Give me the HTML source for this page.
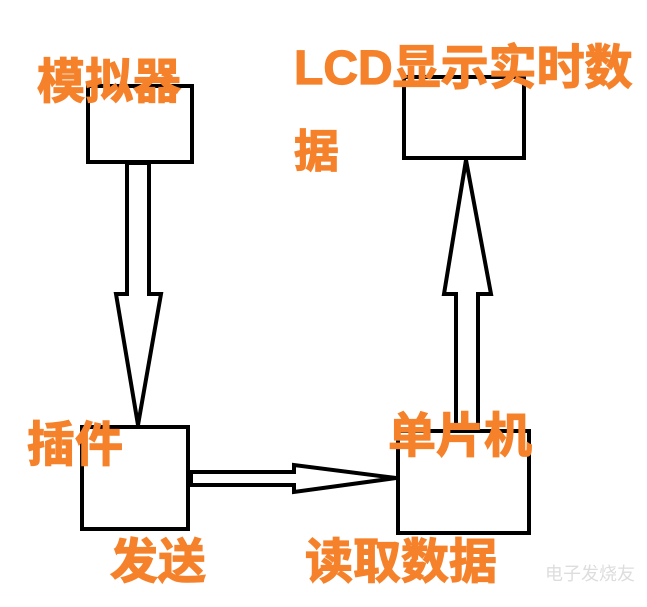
<!DOCTYPE html>
<html><head><meta charset="utf-8"><style>
html,body{margin:0;padding:0;background:#fff;width:647px;height:607px;overflow:hidden}
text{font-family:"Liberation Sans","Noto Sans CJK SC",sans-serif;font-weight:bold;fill:#f5822a;stroke:#f5822a;stroke-width:1.2}
</style></head><body>
<svg width="647" height="607" viewBox="0 0 647 607" xmlns="http://www.w3.org/2000/svg">
<g fill="none" stroke="#000" stroke-width="4" stroke-linejoin="miter">
<rect x="88" y="86" width="104" height="76"/>
<rect x="404" y="77" width="120" height="81"/>
<rect x="82" y="427" width="106" height="102"/>
<rect x="398" y="431" width="131" height="102"/>
<polygon points="127,163 149,163 149,294 161,294 138,425 116,294 127,294"/>
<polygon points="456,430 478,430 478,294 491,294 466,160 444,294 456,294"/>
<polygon points="191,472 294,472 294,465 396,478 294,492 294,485 191,485"/>
</g>
<text x="37" y="98" font-size="48">模拟器</text>
<text x="294" y="84" font-size="48">LCD显示实时数</text>
<text x="294" y="167" font-size="45">据</text>
<text x="27" y="461" font-size="48">插件</text>
<text x="388" y="452" font-size="48">单片机</text>
<text x="110" y="578" font-size="48">发送</text>
<text x="305" y="578" font-size="48">读取数据</text>
<text x="545" y="580" font-size="18" style="fill:#ddd;stroke:none;font-weight:normal">电子发烧友</text>
</svg>
</body></html>
